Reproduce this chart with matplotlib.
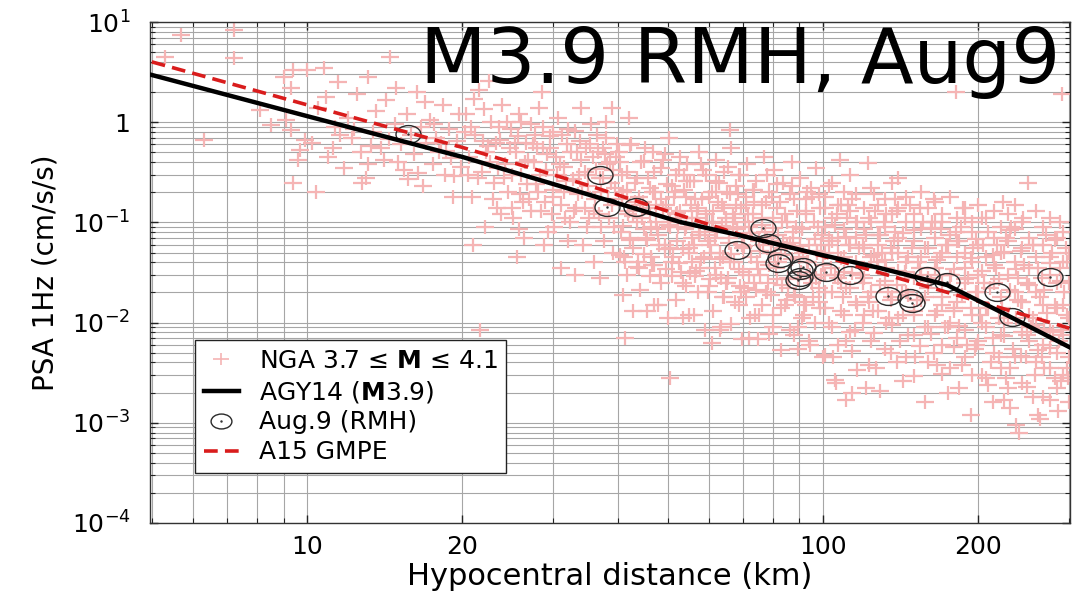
import numpy as np
import matplotlib
matplotlib.use("Agg")
import matplotlib.pyplot as plt
from matplotlib.path import Path
from matplotlib.lines import Line2D
from matplotlib.ticker import FixedLocator, FixedFormatter, NullFormatter, LogLocator

plt.rcParams['font.family'] = ['DejaVu Sans']

# ---------------- data ----------------
# NGA records, 3.7 <= M <= 4.1 : (hypocentral distance km, PSA 1Hz cm/s/s)
nga_a = [(5.7, 7.4), (7.2, 8.3), (5.3, 4.5), (7.2, 4.4), (6.3, 0.66), (8.1, 1.32), (9.0, 2.8),
         (9.4, 3.3), (9.3, 2.2), (9.4, 0.25), (9.3, 0.84), (9.7, 0.53), (9.1, 1.05), (9.6, 0.42),
         (9.9, 0.66), (8.5, 0.94)]
nga_b = [(10.2, 0.62), (10.5, 1.4), (10.8, 3.5), (11.0, 0.45), (11.3, 0.9), (11.5, 2.5), (11.8, 0.35),
         (12.0, 1.1), (12.2, 0.7), (12.5, 1.9), (12.7, 0.5), (13.0, 0.28), (13.1, 2.8), (13.4, 0.8),
         (13.6, 1.3), (13.9, 0.55), (14.1, 0.42), (14.5, 4.5), (14.9, 2.2), (14.8, 0.95), (14.2, 1.66),
         (15.2, 0.6), (15.4, 0.33), (15.6, 1.2), (15.9, 0.75), (16.1, 0.48), (16.3, 2.0), (16.6, 0.9),
         (16.8, 0.23), (17.0, 0.62), (17.3, 1.05), (17.5, 0.38), (17.8, 0.7), (18.0, 0.5), (18.3, 1.5),
         (18.5, 0.3), (18.8, 0.85), (19.0, 0.44), (19.2, 0.18), (19.5, 0.65), (19.7, 1.2), (19.9, 0.36),
         (11.6, 0.75), (13.3, 0.58), (15.0, 0.4), (16.9, 1.6), (18.6, 0.52), (12.8, 0.25), (10.0, 3.3),
         (10.9, 1.8), (11.2, 0.55), (13.1, 0.38), (14.4, 0.68), (16.4, 0.31), (17.6, 0.95), (19.3, 0.29),
         (12.3, 0.85), (15.7, 0.27), (18.2, 0.62), (10.4, 0.2)]
nga_c = [(20.3, 1.2), (20.6, 0.45), (20.9, 0.18), (21.2, 0.75), (21.5, 2.1), (21.8, 0.32), (22.1, 0.09),
         (22.4, 0.58), (22.7, 1.0), (23.0, 0.25), (23.3, 0.14), (23.6, 0.66), (23.9, 1.5), (24.2, 0.38),
         (24.5, 0.2), (24.8, 0.85), (25.1, 0.11), (25.4, 0.5), (25.7, 1.2), (26.0, 0.3), (26.3, 0.07),
         (26.6, 0.62), (26.9, 0.17), (27.2, 0.95), (27.5, 0.4), (27.8, 0.24), (28.1, 1.4), (28.4, 0.13),
         (28.7, 0.55), (29.0, 0.33), (29.3, 0.08), (29.6, 0.72), (29.9, 0.21), (30.3, 0.45), (30.7, 1.1),
         (31.1, 0.15), (31.5, 0.36), (31.9, 0.6), (32.3, 0.1), (32.7, 0.27), (33.1, 0.82), (33.5, 0.19),
         (33.9, 0.42), (34.3, 0.06), (34.7, 0.55), (35.1, 0.23), (35.5, 0.95), (35.9, 0.13), (36.3, 0.34),
         (36.7, 0.5), (37.1, 0.09), (37.5, 0.28), (37.9, 0.7), (38.3, 0.17), (38.7, 0.4), (39.1, 0.05),
         (39.5, 0.22), (39.9, 0.6), (20.8, 0.9), (21.4, 0.28), (22.0, 1.35), (22.6, 0.4), (23.2, 0.62),
         (23.8, 0.12), (24.4, 1.0), (25.0, 0.3), (25.6, 0.72), (26.2, 0.16), (26.8, 0.42), (27.4, 0.6),
         (28.0, 0.2), (28.6, 0.9), (29.2, 0.48), (29.8, 0.12), (30.5, 0.3), (31.2, 0.75), (31.8, 0.26),
         (32.5, 0.5), (33.2, 0.14), (33.8, 0.65), (34.5, 0.32), (35.2, 0.11), (35.8, 0.45), (36.5, 0.75),
         (37.2, 0.2), (37.8, 0.48), (38.5, 0.11), (39.2, 0.33), (22.5, 2.6), (28.5, 2.0), (34.0, 1.4),
         (25.5, 0.045), (31.0, 0.035), (37.0, 0.028), (21.0, 0.06), (33.0, 0.03), (38.0, 1.0), (36.0, 0.04),
         (21.6, 0.0084), (39.0, 1.4)]
nga_c2 = [(25.3, 0.62), (25.9, 0.19), (26.5, 0.4), (27.1, 0.13), (27.7, 0.75), (28.3, 0.3), (28.9, 0.16),
          (29.5, 0.55), (30.1, 0.09), (30.9, 0.38), (31.4, 0.2), (32.0, 0.85), (32.9, 0.13), (33.6, 0.3),
          (34.1, 0.2), (34.9, 0.09), (35.4, 0.6), (36.1, 0.17), (36.9, 0.28), (37.6, 0.065), (38.1, 0.38),
          (38.9, 0.15), (39.6, 0.45), (24.1, 0.28), (24.7, 0.55), (23.5, 0.9), (22.9, 0.17), (22.2, 0.5),
          (21.1, 1.7), (20.5, 0.3), (26.0, 1.0), (27.9, 0.55), (29.9, 0.8), (31.6, 0.11), (33.3, 0.5),
          (35.0, 0.3), (36.8, 0.12), (38.8, 0.25), (30.0, 0.18), (32.1, 0.065), (34.6, 0.14), (37.4, 0.55),
          (39.4, 0.09), (28.8, 0.06), (26.7, 0.24), (24.9, 0.14), (23.4, 0.35), (21.9, 0.65), (20.2, 0.8),
          (25.8, 0.085)]
nga_d = [(40.2, 0.5), (40.6, 0.08), (40.9, 0.2), (41.3, 0.04), (41.7, 0.32), (42.1, 0.13), (42.5, 0.6),
         (42.8, 0.055), (43.2, 0.25), (43.6, 0.1), (44.0, 0.035), (44.4, 0.4), (44.8, 0.16), (45.3, 0.07),
         (45.7, 0.28), (46.1, 0.12), (46.5, 0.045), (46.9, 0.5), (47.3, 0.2), (47.7, 0.085), (48.2, 0.03),
         (48.6, 0.35), (48.9, 0.14), (49.4, 0.06), (49.8, 0.24), (50.2, 0.7), (50.6, 0.1), (50.9, 0.04),
         (51.4, 0.18), (51.8, 0.3), (52.2, 0.065), (52.7, 0.13), (52.9, 0.45), (53.4, 0.025), (53.8, 0.21),
         (54.2, 0.09), (54.6, 0.38), (54.9, 0.05), (55.4, 0.15), (55.8, 0.07), (56.2, 0.26), (56.6, 0.033),
         (56.9, 0.11), (57.4, 0.5), (57.8, 0.08), (58.2, 0.17), (58.7, 0.045), (59.2, 0.3), (59.6, 0.1),
         (59.9, 0.02), (60.4, 0.06), (60.8, 0.2), (61.3, 0.13), (61.7, 0.035), (61.9, 0.42), (62.4, 0.08),
         (62.8, 0.25), (63.2, 0.05), (63.6, 0.15), (63.9, 0.018), (64.4, 0.32), (64.8, 0.1), (65.3, 0.028),
         (65.7, 0.07), (65.9, 0.19), (66.4, 0.55), (66.8, 0.12), (67.3, 0.04), (67.7, 0.23), (68.2, 0.085),
         (68.6, 0.015), (68.9, 0.3), (69.4, 0.14), (69.8, 0.055), (70.4, 0.022), (70.9, 0.18), (71.3, 0.38),
         (72.0, 0.09), (72.6, 0.045), (73.3, 0.12), (73.8, 0.012), (74.2, 0.26), (75.0, 0.065), (75.6, 0.03),
         (76.2, 0.15), (76.8, 0.45), (77.3, 0.08), (78.0, 0.02), (78.6, 0.2), (79.3, 0.05), (79.9, 0.11),
         (80.4, 0.33), (81.1, 0.035), (81.7, 0.075), (82.4, 0.16), (83.0, 0.014), (83.6, 0.25), (84.3, 0.055),
         (85.0, 0.1), (85.7, 0.028), (86.3, 0.19), (86.9, 0.4), (87.6, 0.07), (88.3, 0.018), (89.0, 0.13),
         (89.7, 0.045), (90.4, 0.28), (91.1, 0.085), (91.8, 0.012), (92.5, 0.17), (93.2, 0.04), (93.9, 0.06),
         (94.6, 0.22), (95.3, 0.025), (96.0, 0.1), (96.7, 0.35), (97.4, 0.05), (98.1, 0.016), (98.8, 0.14),
         (99.5, 0.075), (40.8, 0.3), (42.3, 0.07), (43.9, 0.18), (45.1, 0.55), (46.3, 0.09), (47.5, 0.15),
         (49.0, 0.42), (50.4, 0.055), (51.6, 0.2), (53.0, 0.11), (54.4, 0.26), (55.6, 0.04), (57.0, 0.13),
         (58.4, 0.33), (59.8, 0.065), (61.0, 0.1), (62.6, 0.16), (64.0, 0.045), (65.5, 0.36), (67.0, 0.09),
         (68.4, 0.19), (69.9, 0.032), (71.5, 0.12), (73.0, 0.21), (74.6, 0.04), (76.0, 0.095), (77.8, 0.3),
         (79.5, 0.065), (81.3, 0.14), (83.2, 0.024), (85.2, 0.06), (87.0, 0.23), (88.8, 0.09), (90.8, 0.032),
         (92.8, 0.12), (95.0, 0.18), (97.0, 0.028), (99.0, 0.06), (41.3, 0.007), (50.5, 0.0028),
         (61.0, 0.0063), (63.5, 0.009), (72.0, 0.007), (88.0, 0.0075), (94.0, 0.0065), (55.0, 0.012),
         (47.0, 0.015), (80.0, 0.009), (66.0, 0.84), (42.0, 1.1)]
nga_d2 = [(40.4, 0.40), (40.4, 0.047), (40.9, 0.093), (40.9, 0.019), (41.6, 0.21), (41.6, 0.03),
          (42.2, 0.59), (42.2, 0.067), (42.9, 0.013), (42.9, 0.116), (43.5, 0.28), (43.5, 0.036),
          (44.2, 0.021), (44.2, 0.15), (44.9, 0.41), (44.9, 0.048), (45.5, 0.067), (45.5, 0.013),
          (46.2, 0.22), (46.2, 0.029), (47.0, 0.32), (47.0, 0.038), (47.8, 0.075), (47.8, 0.015),
          (48.5, 0.17), (48.5, 0.025), (49.3, 0.48), (49.3, 0.054), (50.1, 0.011), (50.1, 0.094),
          (51.0, 0.23), (51.0, 0.029), (51.9, 0.017), (51.9, 0.12), (52.6, 0.33), (52.6, 0.039),
          (53.5, 0.054), (53.5, 0.011), (54.3, 0.18), (54.3, 0.023), (55.2, 0.26), (55.2, 0.031),
          (56.1, 0.06), (56.1, 0.012), (57.1, 0.14), (57.1, 0.02), (58.0, 0.38), (58.0, 0.043),
          (59.0, 0.0085), (59.0, 0.075), (60.0, 0.18), (60.0, 0.023), (61.1, 0.013), (61.1, 0.098),
          (62.1, 0.26), (62.1, 0.03), (63.1, 0.043), (63.1, 0.0085), (64.2, 0.14), (64.2, 0.018),
          (65.2, 0.2), (65.2, 0.025), (66.3, 0.048), (66.3, 0.0096), (67.5, 0.11), (67.5, 0.016),
          (68.6, 0.3), (68.6, 0.034), (69.7, 0.0068), (69.7, 0.06), (70.8, 0.15), (70.8, 0.018),
          (72.1, 0.011), (72.1, 0.078), (73.4, 0.21), (73.4, 0.025), (74.8, 0.034), (74.8, 0.0068),
          (76.1, 0.11), (76.1, 0.015), (77.4, 0.16), (77.4, 0.02), (78.7, 0.038), (78.7, 0.0077),
          (80.1, 0.087), (80.1, 0.012), (81.5, 0.24), (81.5, 0.027), (83.0, 0.0053), (83.0, 0.047),
          (84.5, 0.12), (84.5, 0.015), (86.1, 0.0084), (86.1, 0.062), (87.7, 0.17), (87.7, 0.019),
          (89.3, 0.027), (89.3, 0.0054), (91.0, 0.088), (91.0, 0.011), (92.7, 0.13), (92.7, 0.015),
          (94.5, 0.03), (94.5, 0.006), (96.3, 0.069), (96.3, 0.0098), (98.1, 0.19), (98.1, 0.022),
          (99.8, 0.0045), (99.8, 0.038),
          (40.7, 0.17), (41.9, 0.12), (43.2, 0.16), (44.5, 0.11), (45.9, 0.14), (47.4, 0.1), (48.9, 0.135),
          (50.5, 0.09), (52.2, 0.125), (53.9, 0.085), (55.6, 0.11), (57.5, 0.075), (59.5, 0.1), (61.6, 0.07),
          (63.7, 0.092), (65.8, 0.062), (68.0, 0.085), (70.2, 0.058), (72.7, 0.078), (75.4, 0.052),
          (78.0, 0.07), (80.8, 0.048), (83.8, 0.063), (86.9, 0.043), (90.1, 0.058), (93.6, 0.04),
          (97.2, 0.052), (41.1, 0.045), (43.8, 0.04), (46.6, 0.038), (49.7, 0.034), (53.0, 0.032),
          (56.5, 0.029), (60.4, 0.027), (64.7, 0.025), (69.1, 0.023), (74.1, 0.021), (79.4, 0.019),
          (85.2, 0.017), (91.7, 0.016), (98.7, 0.014)]
nga_d3 = [(45.0, 0.085), (46.8, 0.2), (48.0, 0.06), (49.5, 0.15), (51.2, 0.045), (52.4, 0.09), (53.7, 0.3),
          (55.0, 0.055), (56.4, 0.17), (57.7, 0.035), (59.3, 0.12), (60.6, 0.05), (62.0, 0.2), (63.4, 0.028),
          (64.9, 0.11), (66.1, 0.04), (67.9, 0.15), (69.2, 0.02), (70.6, 0.1), (71.9, 0.03), (73.6, 0.16),
          (75.2, 0.012), (76.5, 0.06), (78.3, 0.025), (79.7, 0.18), (81.9, 0.04), (83.4, 0.1), (85.5, 0.022),
          (87.3, 0.08), (89.5, 0.009), (91.4, 0.05), (93.0, 0.2), (95.6, 0.018), (97.7, 0.09), (99.2, 0.03)]
nga_e = [(101, 0.18), (101, 0.09), (101, 0.05), (101, 0.03), (101, 0.014),
         (104, 0.25), (104, 0.065), (104, 0.02), (104, 0.009), (104, 0.11),
         (107, 0.05), (107, 0.15), (107, 0.028), (107, 0.07), (107, 0.006),
         (110, 0.2), (110, 0.032), (110, 0.012), (110, 0.085), (110, 0.045),
         (113, 0.13), (113, 0.06), (113, 0.022), (113, 0.008), (113, 0.3),
         (116, 0.04), (116, 0.1), (116, 0.016), (116, 0.07), (116, 0.19),
         (120, 0.055), (120, 0.012), (120, 0.14), (120, 0.028), (120, 0.085),
         (124, 0.22), (124, 0.045), (124, 0.0065), (124, 0.02), (124, 0.1),
         (128, 0.06), (128, 0.15), (128, 0.035), (128, 0.013), (128, 0.075),
         (132, 0.026), (132, 0.09), (132, 0.0055), (132, 0.17), (132, 0.042),
         (136, 0.12), (136, 0.018), (136, 0.05), (136, 0.0095), (136, 0.25),
         (140, 0.07), (140, 0.033), (140, 0.14), (140, 0.011), (140, 0.05),
         (145, 0.02), (145, 0.1), (145, 0.04), (145, 0.0045), (145, 0.18),
         (150, 0.065), (150, 0.013), (150, 0.028), (150, 0.12), (150, 0.0075),
         (155, 0.2), (155, 0.045), (155, 0.017), (155, 0.085), (155, 0.03),
         (160, 0.009), (160, 0.055), (160, 0.14), (160, 0.022), (160, 0.004),
         (165, 0.1), (165, 0.035), (165, 0.012), (165, 0.07), (165, 0.16),
         (170, 0.025), (170, 0.006), (170, 0.05), (170, 0.12), (170, 0.015),
         (176, 0.075), (176, 0.03), (176, 0.0035), (176, 0.18), (176, 0.01),
         (182, 0.045), (182, 0.11), (182, 0.016), (182, 0.007), (182, 0.065),
         (188, 0.14), (188, 0.025), (188, 0.05), (188, 0.0085), (188, 0.035),
         (194, 0.012), (194, 0.08), (194, 0.003), (194, 0.04), (194, 0.1),
         (200, 0.06), (200, 0.02), (200, 0.15), (200, 0.0065), (200, 0.03),
         (207, 0.009), (207, 0.045), (207, 0.11), (207, 0.014), (207, 0.0028),
         (214, 0.07), (214, 0.025), (214, 0.005), (214, 0.13), (214, 0.038),
         (221, 0.018), (221, 0.09), (221, 0.0075), (221, 0.05), (221, 0.0035),
         (228, 0.12), (228, 0.03), (228, 0.011), (228, 0.065), (228, 0.0022),
         (235, 0.04), (235, 0.0045), (235, 0.085), (235, 0.02), (235, 0.15),
         (243, 0.008), (243, 0.055), (243, 0.016), (243, 0.1), (243, 0.0025),
         (251, 0.035), (251, 0.0065), (251, 0.07), (251, 0.012), (251, 0.024),
         (259, 0.13), (259, 0.02), (259, 0.004), (259, 0.045), (259, 0.0095),
         (267, 0.006), (267, 0.06), (267, 0.015), (267, 0.0018), (267, 0.09),
         (275, 0.03), (275, 0.0085), (275, 0.11), (275, 0.0035), (275, 0.045),
         (284, 0.014), (284, 0.07), (284, 0.005), (284, 0.025), (284, 0.0022),
         (292, 0.04), (292, 0.0075), (292, 0.08), (292, 0.015), (292, 0.003),
         (299, 0.011), (299, 0.05), (299, 0.0045), (299, 0.025), (299, 0.0016),
         (102.5, 0.07), (108.5, 0.025), (111.5, 0.11), (117.5, 0.055), (122, 0.018), (126, 0.13),
         (130, 0.05), (134, 0.011), (138, 0.08), (142.5, 0.02), (147.5, 0.15), (152.5, 0.04),
         (157.5, 0.009), (162.5, 0.1), (167.5, 0.03), (173, 0.06), (179, 0.013), (185, 0.09),
         (191, 0.028), (197, 0.0055), (203.5, 0.11), (210.5, 0.022), (217.5, 0.06), (224.5, 0.01),
         (231.5, 0.09), (239, 0.028), (247, 0.0045), (255, 0.06), (263, 0.018), (271, 0.075),
         (279.5, 0.008), (288, 0.035), (296, 0.055), (106, 0.0025), (111, 0.0017), (114, 0.002),
         (121, 0.0022), (263, 0.0011), (240, 0.00079), (230, 0.0014), (285, 0.0013), (108, 0.42),
         (122, 0.39), (164, 0.17), (187, 0.14), (223, 0.16), (181, 2.0), (290, 1.9), (140, 0.28),
         (250, 0.25)]
nga_e2 = [(100.8, 0.14), (100.8, 0.02), (100.8, 0.0048), (102.9, 0.059), (102.9, 0.0098), (102.9, 0.23),
          (105.5, 0.03), (105.5, 0.095), (105.5, 0.0027), (108.2, 0.013), (108.2, 0.044), (108.2, 0.15),
          (110.9, 0.0065), (110.9, 0.072), (110.9, 0.022), (113.7, 0.17), (113.7, 0.031), (113.7, 0.0052),
          (116.6, 0.015), (116.6, 0.1), (116.6, 0.0034), (119.6, 0.06), (119.6, 0.0099), (119.6, 0.025),
          (122.6, 0.11), (122.6, 0.016), (122.6, 0.0038), (125.7, 0.047), (125.7, 0.0078), (125.7, 0.19),
          (128.9, 0.024), (128.9, 0.075), (128.9, 0.0021), (132.2, 0.01), (132.2, 0.035), (132.2, 0.12),
          (135.6, 0.005), (135.6, 0.056), (135.6, 0.017), (139.1, 0.13), (139.1, 0.024), (139.1, 0.004),
          (142.6, 0.012), (142.6, 0.078), (142.6, 0.0026), (146.3, 0.045), (146.3, 0.0075), (146.3, 0.019),
          (150.0, 0.084), (150.0, 0.012), (150.0, 0.0029), (153.9, 0.035), (153.9, 0.0058), (153.9, 0.14),
          (157.8, 0.018), (157.8, 0.056), (157.8, 0.0016), (161.8, 0.0077), (161.8, 0.026), (161.8, 0.088),
          (166.0, 0.0038), (166.0, 0.042), (166.0, 0.013), (170.2, 0.1), (170.2, 0.018), (170.2, 0.0031),
          (174.6, 0.009), (174.6, 0.06), (174.6, 0.002), (179.0, 0.034), (179.0, 0.0057), (179.0, 0.014),
          (183.6, 0.065), (183.6, 0.0093), (183.6, 0.0022), (188.3, 0.027), (188.3, 0.0045), (188.3, 0.11),
          (193.1, 0.014), (193.1, 0.044), (193.1, 0.0012), (198.0, 0.006), (198.0, 0.02), (198.0, 0.068),
          (203.1, 0.003), (203.1, 0.033), (203.1, 0.0099), (208.3, 0.08), (208.3, 0.014), (208.3, 0.0024),
          (213.6, 0.007), (213.6, 0.047), (213.6, 0.0016), (219.0, 0.027), (219.0, 0.0045), (219.0, 0.011),
          (224.6, 0.051), (224.6, 0.0073), (224.6, 0.0017), (230.4, 0.021), (230.4, 0.0035), (230.4, 0.084),
          (236.3, 0.011), (236.3, 0.034), (236.3, 0.00095), (242.3, 0.0046), (242.3, 0.016), (242.3, 0.052),
          (248.5, 0.0023), (248.5, 0.025), (248.5, 0.0075), (254.8, 0.06), (254.8, 0.011), (254.8, 0.0018),
          (261.3, 0.0053), (261.3, 0.035), (261.3, 0.0012), (268.0, 0.021), (268.0, 0.0035), (268.0, 0.0086),
          (274.8, 0.039), (274.8, 0.0056), (274.8, 0.0017), (281.8, 0.015), (281.8, 0.0028), (281.8, 0.066),
          (289.0, 0.0084), (289.0, 0.026), (289.0, 0.0026), (296.4, 0.0035), (296.4, 0.012), (296.4, 0.04)]
nga_e3 = [(103.5, 0.035), (106.2, 0.12), (109.3, 0.018), (112.2, 0.06), (115.3, 0.0085), (118.5, 0.03),
          (121.3, 0.075), (124.8, 0.013), (127.3, 0.04), (131.0, 0.1), (133.7, 0.02), (137.4, 0.065),
          (141.2, 0.0065), (144.0, 0.032), (148.5, 0.055), (151.8, 0.017), (156.2, 0.1), (159.6, 0.028),
          (163.7, 0.005), (168.2, 0.045), (172.4, 0.009), (177.1, 0.03), (180.7, 0.08), (186.1, 0.019),
          (190.5, 0.006), (195.4, 0.055), (201.4, 0.012), (205.5, 0.025), (211.8, 0.004), (216.5, 0.035),
          (222.7, 0.014), (226.5, 0.07), (233.0, 0.0055), (238.2, 0.017), (245.0, 0.038), (252.6, 0.009),
          (257.6, 0.003), (265.2, 0.028), (272.1, 0.0125), (278.2, 0.05), (286.0, 0.0065), (293.6, 0.02),
          (298.0, 0.0028), (104.5, 0.0045), (112.0, 0.15), (126.5, 0.0035), (138.0, 0.17), (151.0, 0.0045),
          (169.0, 0.085), (185.5, 0.0038), (204.0, 0.06), (226.0, 0.0028), (244.0, 0.11), (266.0, 0.0045),
          (288.0, 0.1)]

# Aug.9 (RMH) recordings
aug_dist = [15.7, 37.0, 38.1, 43.3, 68.1, 76.6, 78.2, 82.6, 81.8, 90.2, 90.2, 89.4, 91.5, 101.4,
            112.8, 133.6, 159, 147.5, 148.6, 174, 217, 232, 275]
aug_psa = [0.762, 0.297, 0.1425, 0.1425, 0.0531, 0.088, 0.0623, 0.0441, 0.0393, 0.0335, 0.0285,
           0.0266, 0.0359, 0.032, 0.0299, 0.0184, 0.0292, 0.0176, 0.0157, 0.0254, 0.0202, 0.0114, 0.0285]

# AGY14 (M3.9) model curve
agy_dist = [5, 10, 20, 39.2, 52.8, 70, 100, 129, 174, 227, 300]
agy_psa = [2.96, 1.15, 0.45, 0.16, 0.101, 0.073, 0.047, 0.035, 0.0237, 0.0119, 0.0057]

# A15 GMPE curve
a15_dist = [5, 10, 20, 35, 52.8, 70, 100, 150, 200, 300]
a15_psa = [4.0, 1.49, 0.56, 0.235, 0.118, 0.074, 0.046, 0.025, 0.0163, 0.0088]

ytick_vals = [1e-4, 1e-3, 1e-2, 1e-1, 1, 10]
ytick_labels = [r'$10^{-4}$', r'$10^{-3}$', r'$10^{-2}$', r'$10^{-1}$', '1', r'$10^{1}$']
xtick_vals = [10, 20, 100, 200]
xtick_labels = ['10', '20', '100', '200']

# ---------------- figure ----------------
W, H = 1088, 595
fig = plt.figure(figsize=(W / 100, H / 100), dpi=100)
ax = fig.add_axes([150 / W, 1 - 523 / H, 920 / W, 501 / H])
ax.set_xscale('log')
ax.set_yscale('log')
ax.set_xlim(4.96, 301)
ax.set_ylim(1e-4, 10)

pink = '#f5b4b4'
plus_marker = Path([(-1.3, 0), (1.3, 0), (0, -1), (0, 1)],
                   [Path.MOVETO, Path.LINETO, Path.MOVETO, Path.LINETO])
circ = Path.unit_circle()
ell_marker = Path(circ.vertices * np.array([1.4, 1.0]), circ.codes)

nga = nga_a + nga_b + nga_c + nga_c2 + nga_d + nga_d2 + nga_d3 + nga_e + nga_e2 + nga_e3
nga_d_arr = [p[0] for p in nga]
nga_p_arr = [p[1] for p in nga]
ax.plot(nga_d_arr, nga_p_arr, ls='none', marker=plus_marker, ms=13, mfc='none',
        mec=pink, mew=1.6, zorder=2)

ax.plot(aug_dist, aug_psa, ls='none', marker=ell_marker, ms=18, mfc='none',
        mec='#2a2a2a', mew=1.0, zorder=3)
ax.plot(aug_dist, aug_psa, ls='none', marker='.', ms=1.5, color='#333333', zorder=3)

ax.plot(a15_dist, a15_psa, color='#d91c1c', lw=2.6, dashes=(3.8, 2.0), zorder=4)
ax.plot(agy_dist, agy_psa, color='black', lw=3.2, zorder=5)

# ticks and grid
ax.xaxis.set_major_locator(FixedLocator(xtick_vals))
ax.xaxis.set_major_formatter(FixedFormatter(xtick_labels))
ax.xaxis.set_minor_locator(FixedLocator([5, 6, 7, 8, 9, 30, 40, 50, 60, 70, 80, 90, 300]))
ax.xaxis.set_minor_formatter(NullFormatter())
ax.yaxis.set_major_locator(FixedLocator(ytick_vals))
ax.yaxis.set_major_formatter(FixedFormatter(ytick_labels))
ax.yaxis.set_minor_locator(LogLocator(base=10, subs=np.arange(2, 10), numticks=30))
ax.yaxis.set_minor_formatter(NullFormatter())
ax.grid(True, which='both', color='#a6a6a6', lw=0.8, zorder=0)
ax.set_axisbelow(True)
ax.tick_params(which='both', direction='in', top=True, right=True, color='#222222')
ax.tick_params(which='major', length=6, width=1, labelsize=18)
ax.tick_params(axis='x', which='major', pad=9)
ax.tick_params(axis='y', which='major', pad=14)
ax.tick_params(which='minor', length=3.5, width=0.8)
for s in ax.spines.values():
    s.set_color('#333333')
    s.set_linewidth(1.0)

ax.set_xlabel('Hypocentral distance (km)', fontsize=22, labelpad=2)
ax.set_ylabel('PSA 1Hz (cm/s/s)', fontsize=20, labelpad=9)

ax.text((1060 - 150) / 920, (523 - 83) / 501, 'M3.9 RMH, Aug9', transform=ax.transAxes,
        ha='right', va='baseline', fontsize=55.5, color='black', zorder=6)

# legend
h_nga = Line2D([], [], ls='none', marker=plus_marker, ms=11, mfc='none', mec=pink, mew=1.2)
h_agy = Line2D([], [], color='black', lw=3.2)
h_aug_c = Line2D([], [], ls='none', marker=ell_marker, ms=15, mfc='none', mec='#2a2a2a', mew=1.0)
h_aug_d = Line2D([], [], ls='none', marker='.', ms=1.5, color='#333333')
h_a15 = Line2D([], [], color='#d91c1c', lw=2.6, dashes=(3.8, 2.0))
leg = ax.legend([h_nga, h_agy, (h_aug_c, h_aug_d), h_a15],
                ['NGA 3.7 ≤ $\\mathbf{M}$ ≤ 4.1', 'AGY14 ($\\mathbf{M}$3.9)', 'Aug.9 (RMH)', 'A15 GMPE'],
                loc='lower left', bbox_to_anchor=((195 - 150) / 920, (523 - 473) / 501),
                borderaxespad=0, fontsize=18, frameon=True, fancybox=False, framealpha=1,
                edgecolor='#222222', handlelength=1.4, handletextpad=0.8, labelspacing=0.23,
                borderpad=0.35)
leg.get_frame().set_linewidth(1.0)
leg.set_zorder(7)

fig.savefig('out.png', dpi=100)
